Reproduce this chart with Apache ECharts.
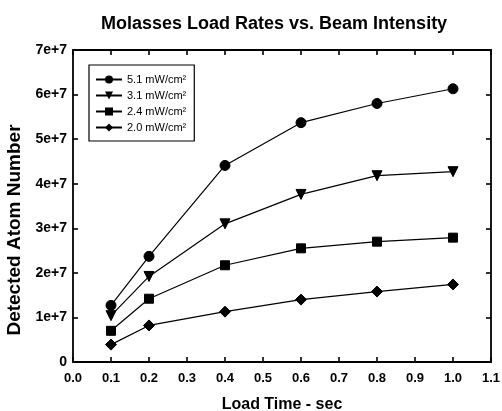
<!DOCTYPE html>
<html><head><meta charset="utf-8">
<script src="https://cdn.jsdelivr.net/npm/echarts@6/dist/echarts.min.js"></script>
<style>html,body{margin:0;padding:0;background:#fff}#c{width:502px;height:411px}</style>
</head><body><div id="c"></div>
<script>
const loadTimes = [0.1, 0.2, 0.4, 0.6, 0.8, 1.0];
const seriesNames = ['5.1 mW/cm²', '3.1 mW/cm²', '2.4 mW/cm²', '2.0 mW/cm²'];
const s51 = [1.27e7, 2.37e7, 4.41e7, 5.37e7, 5.80e7, 6.13e7];
const s31 = [1.04e7, 1.92e7, 3.10e7, 3.76e7, 4.18e7, 4.27e7];
const s24 = [0.70e7, 1.42e7, 2.17e7, 2.55e7, 2.70e7, 2.79e7];
const s20 = [0.39e7, 0.82e7, 1.13e7, 1.40e7, 1.58e7, 1.74e7];
const xTicks = ['0.0','0.1','0.2','0.3','0.4','0.5','0.6','0.7','0.8','0.9','1.0','1.1'];
const yTicks = ['0','1e+7','2e+7','3e+7','4e+7','5e+7','6e+7','7e+7'];

const symbols = ['circle', 'path://M0,0 L10,0 L5,9 Z', 'rect', 'diamond'];
const symSizes = [10, 10, 9, 11];
const allData = [s51, s31, s24, s20];
const F = 'Liberation Sans, Arial, Helvetica, sans-serif';

const chart = echarts.init(document.getElementById('c'), null, {renderer: 'canvas'});
const axisLine = {show: true, onZero: false, lineStyle: {color: '#000', width: 1.8}};
const tick = {show: true, inside: true, length: 5, lineStyle: {color: '#000', width: 1.6}};
chart.setOption({
  animation: false,
  backgroundColor: '#fff',
  title: {
    text: 'Molasses Load Rates vs. Beam Intensity',
    left: 96, top: 10,
    textStyle: {fontFamily: F, fontWeight: 'bold', fontSize: 18, color: '#000'}
  },
  legend: {
    orient: 'vertical', left: 89, top: 65,
    data: seriesNames,
    borderColor: '#000', borderWidth: 1.2,
    padding: [9, 8, 8, 6],
    itemWidth: 26, itemHeight: 10, itemGap: 5,
    textStyle: {fontFamily: F, fontSize: 11, color: '#000'}
  },
  grid: {left: 73, right: 11, top: 50, bottom: 49, containLabel: false, outerBoundsMode: 'none'},
  xAxis: [{
    type: 'value', min: 0, max: 1.1, interval: 0.1,
    name: 'Load Time - sec', nameLocation: 'middle', nameGap: 35,
    nameTextStyle: {fontFamily: F, fontWeight: 'bold', fontSize: 16, color: '#000'},
    axisLine, axisTick: tick, splitLine: {show: false},
    axisLabel: {margin: 10, fontFamily: F, fontWeight: 'bold', fontSize: 13, color: '#000',
      formatter: (v) => xTicks[Math.round(v * 10)]}
  }, {
    type: 'value', min: 0, max: 1.1, interval: 0.1, position: 'top',
    axisLine, axisTick: tick, axisLabel: {show: false}, splitLine: {show: false}
  }],
  yAxis: [{
    type: 'value', min: 0, max: 7e7, interval: 1e7,
    name: 'Detected Atom Number', nameLocation: 'middle', nameGap: 41,
    nameTextStyle: {fontFamily: F, fontWeight: 'bold', fontSize: 19, color: '#000', padding: [0, 48, 0, 0]},
    axisLine, axisTick: tick, splitLine: {show: false},
    axisLabel: {margin: 6, fontFamily: F, fontWeight: 'bold', fontSize: 14, color: '#000',
      formatter: (v) => yTicks[Math.round(v / 1e7)]}
  }, {
    type: 'value', min: 0, max: 7e7, interval: 1e7, position: 'right',
    axisLine, axisTick: tick, axisLabel: {show: false}, splitLine: {show: false}
  }],
  series: seriesNames.map((n, i) => ({
    name: n, type: 'line',
    data: loadTimes.map((t, j) => [t, allData[i][j]]),
    symbol: symbols[i], symbolSize: symSizes[i],
    lineStyle: {color: '#000', width: 1.2},
    itemStyle: {color: '#000', borderColor: '#000'},
    color: '#000'
  }))
});
</script></body></html>
